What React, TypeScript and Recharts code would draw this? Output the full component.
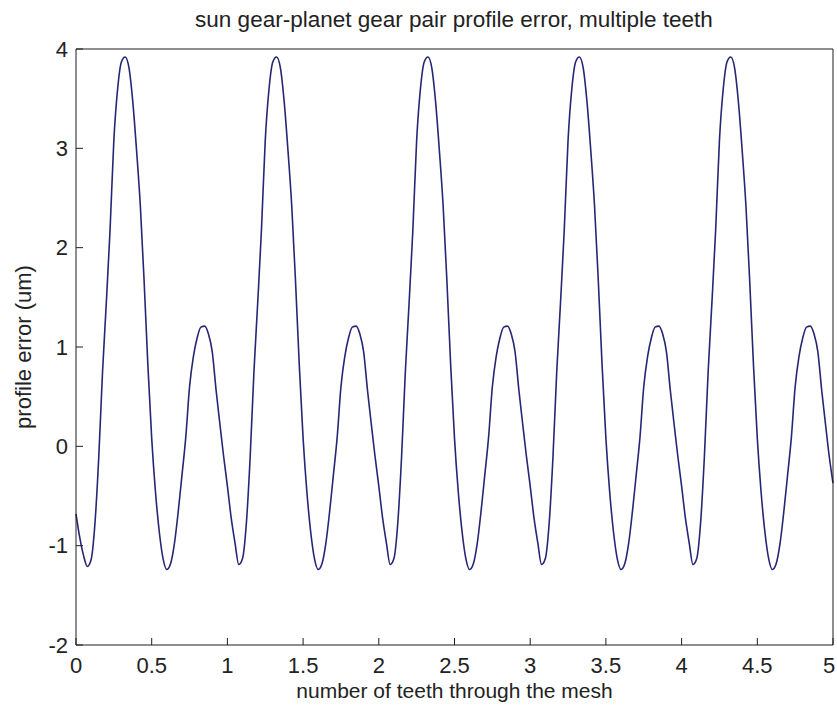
import { LineChart, Line, XAxis, YAxis, Label } from "recharts";

// one tooth = one period of the mesh, sampled every 0.025 teeth
const step = 0.025;

const tooth1 = [
  -0.68, -0.92, -1.1, -1.21, -1.14, -0.78, -0.12, 0.74, 1.44, 2.18, 3.08, 3.6, 3.87, 3.92, 3.81, 3.47, 2.98, 2.42,
  1.66, 0.81, 0.08, -0.46, -0.86, -1.13, -1.24, -1.18, -0.98, -0.66, -0.29, 0.09, 0.6, 0.9, 1.09, 1.2, 1.21, 1.13,
  0.95, 0.57, 0.23, -0.1,
];
const tooth2 = [
  -0.4, -0.72, -0.97, -1.19, -1.13, -0.78, -0.12, 0.74, 1.44, 2.18, 3.08, 3.6, 3.87, 3.92, 3.81, 3.47, 2.98, 2.42,
  1.66, 0.81, 0.08, -0.46, -0.86, -1.13, -1.24, -1.18, -0.98, -0.66, -0.29, 0.09, 0.6, 0.9, 1.09, 1.2, 1.21, 1.13,
  0.95, 0.57, 0.23, -0.1,
];
const tooth3 = [
  -0.4, -0.72, -0.97, -1.19, -1.13, -0.78, -0.12, 0.74, 1.44, 2.18, 3.08, 3.6, 3.87, 3.92, 3.81, 3.47, 2.98, 2.42,
  1.66, 0.81, 0.08, -0.46, -0.86, -1.13, -1.24, -1.18, -0.98, -0.66, -0.29, 0.09, 0.6, 0.9, 1.09, 1.2, 1.21, 1.13,
  0.95, 0.57, 0.23, -0.1,
];
const tooth4 = [
  -0.4, -0.72, -0.97, -1.19, -1.13, -0.78, -0.12, 0.74, 1.44, 2.18, 3.08, 3.6, 3.87, 3.92, 3.81, 3.47, 2.98, 2.42,
  1.66, 0.81, 0.08, -0.46, -0.86, -1.13, -1.24, -1.18, -0.98, -0.66, -0.29, 0.09, 0.6, 0.9, 1.09, 1.2, 1.21, 1.13,
  0.95, 0.57, 0.23, -0.1,
];
const tooth5 = [
  -0.4, -0.72, -0.97, -1.19, -1.13, -0.78, -0.12, 0.74, 1.44, 2.18, 3.08, 3.6, 3.87, 3.92, 3.81, 3.47, 2.98, 2.42,
  1.66, 0.81, 0.08, -0.46, -0.86, -1.13, -1.24, -1.18, -0.98, -0.66, -0.29, 0.09, 0.6, 0.9, 1.09, 1.2, 1.21, 1.13,
  0.95, 0.57, 0.23, -0.1,
];
const lastValue = -0.37;

const xTicks = [0, 0.5, 1, 1.5, 2, 2.5, 3, 3.5, 4, 4.5, 5];
const yTicks = [-2, -1, 0, 1, 2, 3, 4];

const errors = [...tooth1, ...tooth2, ...tooth3, ...tooth4, ...tooth5, lastValue];
const data = errors.map((err, i) => ({ x: +(i * step).toFixed(3), err }));

const FONT = '"Liberation Sans", Arial, sans-serif';
const INK = "#1e1e1e";
const TEXT = "#222";
const tickStyle = { fontSize: 22, fill: TEXT, fontFamily: FONT };

// bottom tick label; the last one is nudged left so it stays on the page
function XTick(props: any) {
  const { x, y, payload, textAnchor } = props;
  const last = payload.value === 5;
  return (
    <text
      x={last ? x - 4 : x}
      y={y}
      dy="0.71em"
      textAnchor={textAnchor}
      fontSize={22}
      fontFamily={FONT}
      fill={TEXT}
    >
      {String(payload.value)}
    </text>
  );
}

export default function App() {
  return (
    <div style={{ position: "absolute", left: 0, top: 0, width: 837, height: 707, background: "#fff" }}>
      <LineChart width={837} height={707} data={data} margin={{ top: 48, right: 3, bottom: 0, left: 0 }}>
        <XAxis
          dataKey="x"
          type="number"
          domain={[0, 5]}
          ticks={xTicks}
          interval={0}
          height={62}
          tickSize={-7}
          tickMargin={19}
          stroke={INK}
          tick={<XTick />}
        >
          <Label
            value="number of teeth through the mesh"
            position="insideBottom"
            offset={9}
            style={{ fontSize: 21, fill: TEXT, fontFamily: FONT }}
          />
        </XAxis>
        <XAxis
          xAxisId="top"
          orientation="top"
          dataKey="x"
          type="number"
          domain={[0, 5]}
          ticks={xTicks}
          interval={0}
          height={1}
          tickSize={-7}
          stroke={INK}
          tick={false}
        />
        <YAxis
          type="number"
          domain={[-2, 4]}
          ticks={yTicks}
          interval={0}
          width={76}
          tickSize={-7}
          tickMargin={15}
          stroke={INK}
          tick={tickStyle}
        />
        <YAxis
          yAxisId="right"
          orientation="right"
          type="number"
          domain={[-2, 4]}
          ticks={yTicks}
          interval={0}
          width={1}
          tickSize={-7}
          stroke={INK}
          tick={false}
        />
        <Line
          type="monotone"
          dataKey="err"
          stroke="#262675"
          strokeWidth={1.6}
          dot={false}
          isAnimationActive={false}
        />
        {/* invisible copy so the top/right frame axes have a series */}
        <Line
          xAxisId="top"
          yAxisId="right"
          type="monotone"
          dataKey="err"
          stroke="none"
          dot={false}
          activeDot={false}
          legendType="none"
          isAnimationActive={false}
        />
      </LineChart>
      <svg
        width={837}
        height={707}
        style={{ position: "absolute", left: 0, top: 0, pointerEvents: "none" }}
      >
        <text x={454} y={27} textAnchor="middle" fontSize={22.5} fontFamily={FONT} fill={TEXT}>
          sun gear-planet gear pair profile error, multiple teeth
        </text>
        <text
          x={31}
          y={347}
          textAnchor="middle"
          fontSize={22}
          fontFamily={FONT}
          fill={TEXT}
          transform="rotate(-90, 31, 347)"
        >
          profile error (um)
        </text>
      </svg>
    </div>
  );
}
